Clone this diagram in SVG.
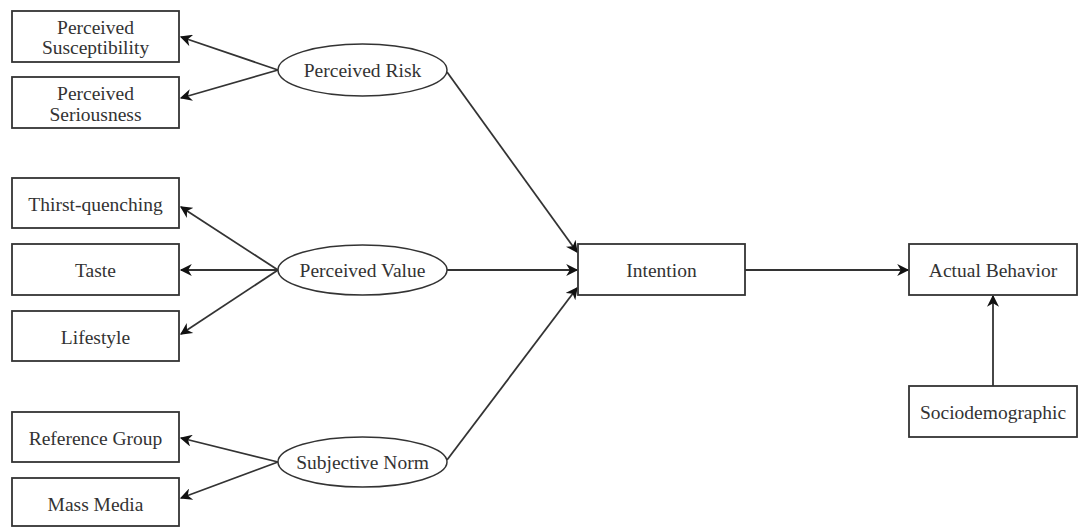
<svg xmlns="http://www.w3.org/2000/svg" width="1085" height="528" viewBox="0 0 1085 528">
<defs>
<style>
.box{fill:#fff;stroke:#333;stroke-width:1.8}
.ell{fill:#fff;stroke:#333;stroke-width:1.5}
.t{font-family:"Liberation Serif","Times New Roman",serif;font-size:19.5px;fill:#333;text-anchor:middle;dominant-baseline:central}
.c{stroke:#333;stroke-width:1.8;fill:none;marker-end:url(#ah)}
</style>
<marker id="ah" viewBox="0 0 10 10" refX="9" refY="5" markerWidth="13" markerHeight="12" markerUnits="userSpaceOnUse" orient="auto-start-reverse">
<path d="M0,0 L10,5 L0,10 L3,5 Z" fill="#111"/>
</marker>
</defs>
<rect width="1085" height="528" fill="#fff"/>
<g id="connectors">
<line class="c" x1="278" y1="70" x2="181" y2="37"/>
<line class="c" x1="278" y1="70" x2="181" y2="98"/>
<line class="c" x1="278" y1="270" x2="181" y2="207"/>
<line class="c" x1="278" y1="270" x2="181" y2="270"/>
<line class="c" x1="278" y1="270" x2="181" y2="334"/>
<line class="c" x1="278" y1="462" x2="181" y2="438"/>
<line class="c" x1="278" y1="462" x2="181" y2="498"/>
<line class="c" x1="447" y1="72" x2="577" y2="252"/>
<line class="c" x1="447" y1="270" x2="577" y2="270"/>
<line class="c" x1="447" y1="460" x2="577" y2="288"/>
<line class="c" x1="745" y1="270" x2="908" y2="270"/>
<line class="c" x1="993" y1="386" x2="993" y2="296"/>
</g>
<g id="n-susc"><rect class="box" x="12" y="11" width="167" height="51"/><text class="t" x="95.5" y="27">Perceived</text><text class="t" x="95.5" y="47">Susceptibility</text></g>
<g id="n-serious"><rect class="box" x="12" y="77" width="167" height="51"/><text class="t" x="95.5" y="93">Perceived</text><text class="t" x="95.5" y="114">Seriousness</text></g>
<g id="n-thirst"><rect class="box" x="12" y="178" width="167" height="50"/><text class="t" x="95.5" y="204">Thirst-quenching</text></g>
<g id="n-taste"><rect class="box" x="12" y="244" width="167" height="51"/><text class="t" x="95.5" y="270">Taste</text></g>
<g id="n-lifestyle"><rect class="box" x="12" y="311" width="167" height="50"/><text class="t" x="95.5" y="337">Lifestyle</text></g>
<g id="n-refgroup"><rect class="box" x="12" y="412" width="167" height="50"/><text class="t" x="95.5" y="438">Reference Group</text></g>
<g id="n-massmedia"><rect class="box" x="12" y="478" width="167" height="48"/><text class="t" x="95.5" y="504">Mass Media</text></g>
<g id="n-risk"><ellipse class="ell" cx="362.5" cy="70" rx="84.5" ry="26"/><text class="t" x="362.5" y="70">Perceived Risk</text></g>
<g id="n-value"><ellipse class="ell" cx="362.5" cy="270" rx="84.5" ry="25"/><text class="t" x="362.5" y="270">Perceived Value</text></g>
<g id="n-norm"><ellipse class="ell" cx="362.5" cy="462" rx="84.5" ry="25"/><text class="t" x="362.5" y="462">Subjective Norm</text></g>
<g id="n-intention"><rect class="box" x="578" y="244" width="167" height="51"/><text class="t" x="661.5" y="270">Intention</text></g>
<g id="n-actual"><rect class="box" x="909" y="244" width="168" height="51"/><text class="t" x="993" y="270">Actual Behavior</text></g>
<g id="n-socio"><rect class="box" x="909" y="386" width="168" height="51"/><text class="t" x="993" y="412">Sociodemographic</text></g>
</svg>
